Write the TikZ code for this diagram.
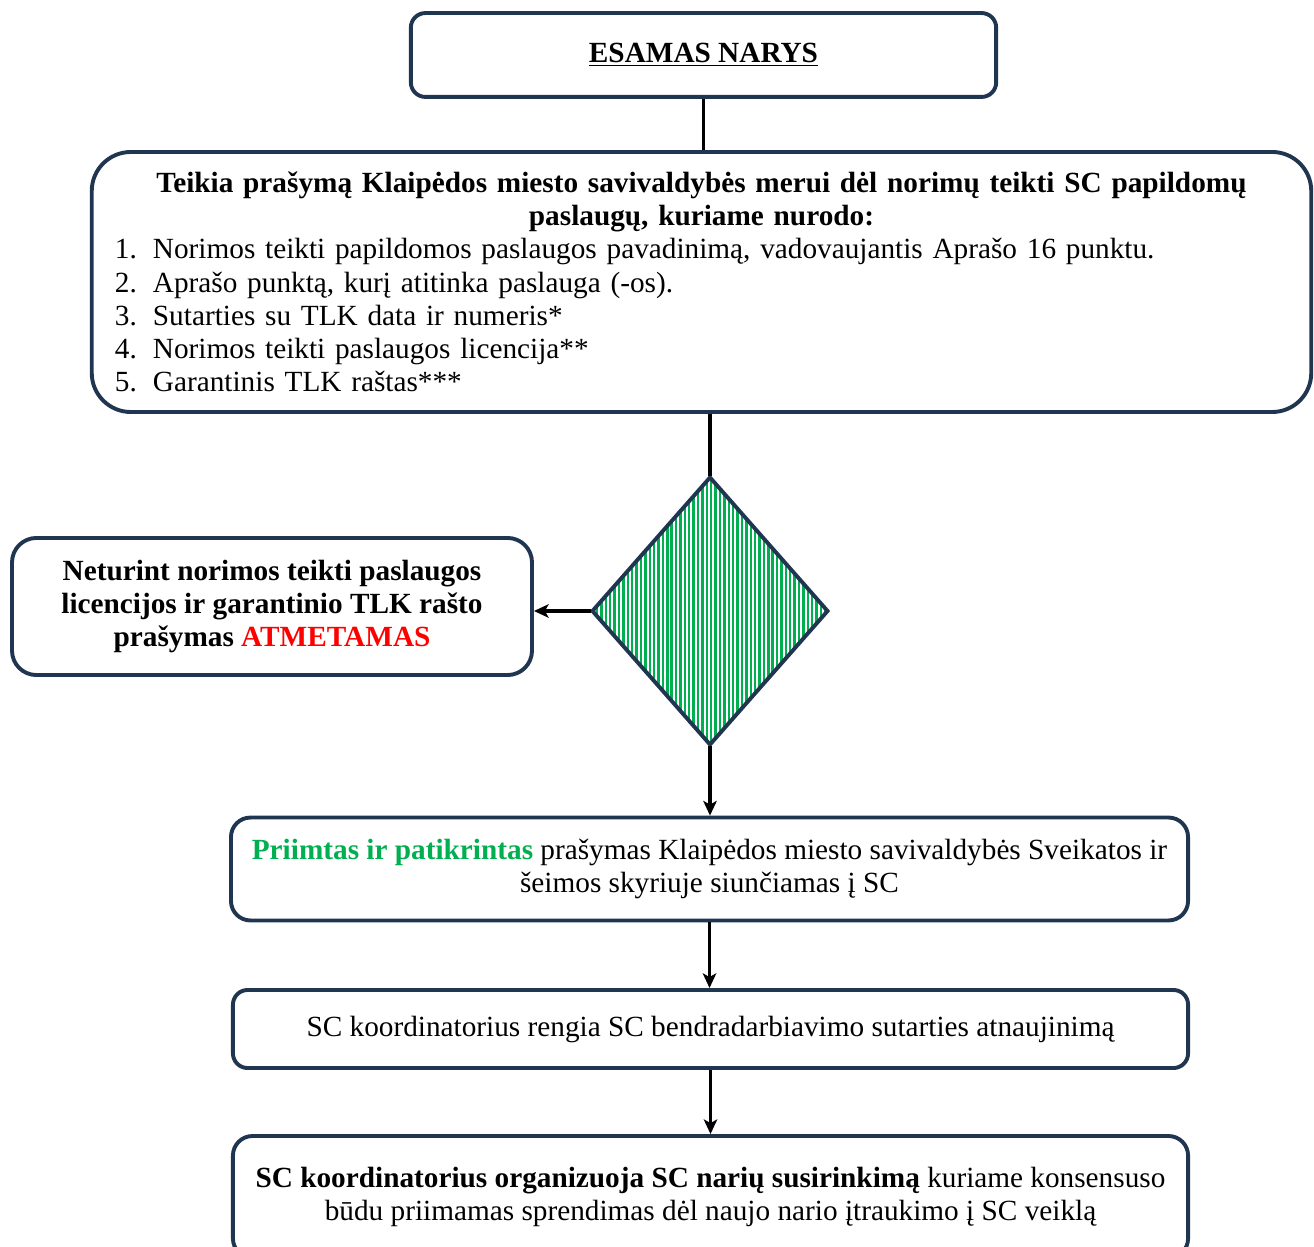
\documentclass[tikz,border=0pt]{standalone}
\usepackage{fontspec}
\setmainfont{Liberation Serif}
\usepackage{xcolor}
\usetikzlibrary{positioning,shapes.geometric,patterns.meta,arrows.meta}
\definecolor{navy}{HTML}{1F3550}
\definecolor{zalia}{HTML}{00B050}

\begin{document}
\begin{tikzpicture}[x=0.41pt, y=-0.41pt,
  roundbox/.style={rectangle, rounded corners=#1, draw=navy, line width=1.6pt, fill=white, align=center, inner sep=0pt, font=\fontsize{12pt}{13.6pt}\selectfont},
  roundbox/.default=8pt,
  decision/.style={diamond, draw=navy, line width=1.6pt, pattern={Lines[angle=90,distance=1.8pt,line width=1pt]}, pattern color=zalia, inner sep=0pt},
  conn/.style={line width=1.4pt, black},
  >={Stealth[length=6pt,width=5.5pt,inset=1.5pt]}]
\useasboundingbox (0,0) rectangle (1314,1247);

\node[roundbox=6pt, minimum width=240pt, minimum height=34.4pt] at (703.5,55) (narys) {\underline{\textbf{ESAMAS NARYS}}};
\node[roundbox=16pt, minimum width=500pt, minimum height=106.6pt, text width=481pt, align=left] at (701.5,282) (prasymas) {%
{\centering\bfseries Teikia prašymą Klaipėdos miesto savivaldybės merui dėl norimų teikti SC papildomų\\ paslaugų, kuriame nurodo:\par}
\makebox[15.6pt][l]{1.}Norimos teikti papildomos paslaugos pavadinimą, vadovaujantis Aprašo 16 punktu.\\
\makebox[15.6pt][l]{2.}Aprašo punktą, kurį atitinka paslauga (-os).\\
\makebox[15.6pt][l]{3.}Sutarties su TLK data ir numeris*\\
\makebox[15.6pt][l]{4.}Norimos teikti paslaugos licencija**\\
\makebox[15.6pt][l]{5.}Garantinis TLK raštas***};
\node[decision, minimum width=96.8pt, minimum height=109.9pt] at (710,611) (sprendimas) {};
\node[roundbox=10pt, minimum width=213.2pt, minimum height=56.2pt] at (272,606.5) (atmesta) {\textbf{Neturint norimos teikti paslaugos}\\ \textbf{licencijos ir garantinio TLK rašto}\\ \textbf{prašymas \textcolor{red}{ATMETAMAS}}};
\node[roundbox=8pt, minimum width=392.4pt, minimum height=42.2pt] at (709.5,869) (priimtas) {\textcolor{zalia}{\textbf{Priimtas ir patikrintas}} prašymas Klaipėdos miesto savivaldybės Sveikatos ir\\ šeimos skyriuje siunčiamas į SC};
\node[roundbox=6pt, minimum width=391.6pt, minimum height=32pt] at (710.5,1029) (rengia) {SC koordinatorius rengia SC bendradarbiavimo sutarties atnaujinimą};
\node[roundbox=8pt, minimum width=391.6pt, minimum height=50pt] at (710.5,1197) (susirinkimas) {\textbf{SC koordinatorius organizuoja SC narių susirinkimą} kuriame konsensuso\\ būdu priimamas sprendimas dėl naujo nario įtraukimo į SC veiklą};

\draw[conn] (narys.south) -- (narys.south |- prasymas.north);
\draw[conn] (sprendimas.north |- prasymas.south) -- (sprendimas.north);
\draw[conn, ->] (sprendimas.west) -- (sprendimas.west -| atmesta.east);
\draw[conn, ->] (sprendimas.south) -- (sprendimas.south |- priimtas.north);
\draw[conn, ->] (priimtas.south) -- (priimtas.south |- rengia.north);
\draw[conn, ->] (rengia.south) -- (rengia.south |- susirinkimas.north);

\end{tikzpicture}
\end{document}
